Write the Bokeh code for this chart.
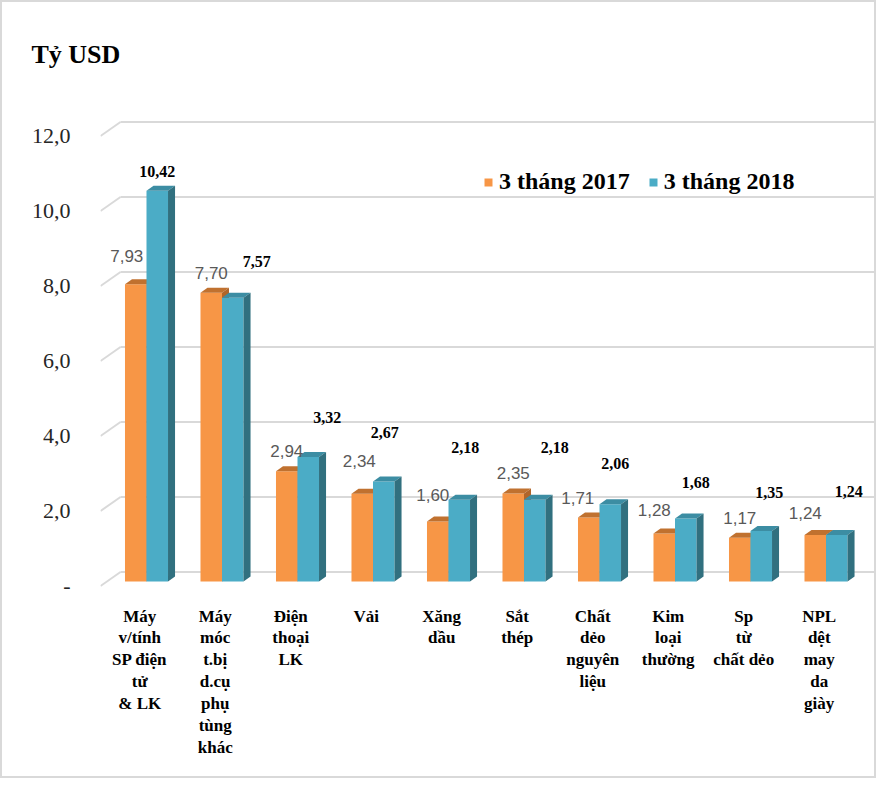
from bokeh.plotting import figure
from bokeh.models import Range1d, FixedTicker, ColumnDataSource, Legend, LegendItem
from bokeh.embed import file_html
from bokeh.resources import INLINE
from bokeh.core.properties import value

# ---------------- data ----------------
categories = [
    "Máy\nv/tính\nSP điện\ntử\n& LK",
    "Máy\nmóc\nt.bị\nd.cụ\nphụ\ntùng\nkhác",
    "Điện\nthoại\nLK",
    "Vải",
    "Xăng\ndầu",
    "Sắt\nthép",
    "Chất\ndẻo\nnguyên\nliệu",
    "Kim\nloại\nthường",
    "Sp\ntừ\nchất dẻo",
    "NPL\ndệt\nmay\nda\ngiày",
]
values_2017 = [7.93, 7.70, 2.94, 2.34, 1.60, 2.35, 1.71, 1.28, 1.17, 1.24]
values_2018 = [10.42, 7.57, 3.32, 2.67, 2.18, 2.18, 2.06, 1.68, 1.35, 1.24]
series_names = ["3 tháng 2017", "3 tháng 2018"]
y_ticks = [0, 2, 4, 6, 8, 10, 12]
y_tick_labels = ["-", "2,0", "4,0", "6,0", "8,0", "10,0", "12,0"]
axis_title = "Tỷ USD"

# ---------------- style ----------------
ORANGE, ORANGE_TOP, ORANGE_SIDE = "#F79646", "#C0712F", "#B0652A"
BLUE, BLUE_TOP, BLUE_SIDE = "#4BACC6", "#3C8DA3", "#31707F"
GRID = "#d9d9d9"
BAR_W = 0.285       # bar width in category units
DEPTH_X = 0.093     # 3D depth (x, category units)
DEPTH_Y = 0.133     # 3D depth (y, value units)
WALL_X = 0.265      # back wall depth (x)
WALL_Y = 0.253      # back wall depth (y)
FRONT_DROP = 0.12   # front end of the grid diagonal below its value
LABEL_SHIFT = -0.09 # category label shift
X0, X1 = -0.6093, 9.682
Y0, Y1 = -0.24, 12.827

# pixel nudges of the data labels (style)
nudge17_x = [-9, 0, 0, -3, -5, 0, -11, -10, 0, -10]
nudge17_y = [28, 20, 20, 33, 27, 20, 19, 24, 20, 22]
nudge18_x = [0, 24, 19, 1, 6, 20, 5, 10, 8, 12]
nudge18_y = [19, 36, 40, 49, 52, 52, 41, 36, 38, 44]

n = len(categories)
idx = list(range(n))

p = figure(width=876, height=778, x_range=Range1d(X0, X1), y_range=Range1d(Y0, Y1),
           output_backend="svg", toolbar_location=None,
           min_border_left=98, min_border_right=1, min_border_top=98, min_border_bottom=190)
p.styles = {"border": "2px solid #d9d9d9"}
p.outline_line_color = None
p.xgrid.visible = False
p.ygrid.visible = False

# title
p.title.text = axis_title
p.title.text_font = "Liberation Serif"
p.title.text_font_style = "bold"
p.title.text_font_size = "26px"
p.title.text_color = "#000000"
p.title.align = "left"
p.title.offset = -69
p.title.standoff = 64

# 3D grid (diagonal on the side wall + line on the back wall)
p.segment(x0=[X0] * len(y_ticks), y0=[v - FRONT_DROP for v in y_ticks],
          x1=[X0 + WALL_X] * len(y_ticks), y1=[v + WALL_Y for v in y_ticks],
          line_color=GRID, line_width=2)
p.segment(x0=[X0 + WALL_X] * len(y_ticks), y0=[v + WALL_Y for v in y_ticks],
          x1=[X1] * len(y_ticks), y1=[v + WALL_Y for v in y_ticks],
          line_color=GRID, line_width=2)


def bar3d(lefts, vals, front, top, side):
    rights = [l + BAR_W for l in lefts]
    r = p.quad(left=lefts, right=rights, bottom=[0] * n, top=vals,
               fill_color=front, line_color=None)
    top_xs = [[l, rr, rr + DEPTH_X, l + DEPTH_X] for l, rr in zip(lefts, rights)]
    top_ys = [[v, v, v + DEPTH_Y, v + DEPTH_Y] for v in vals]
    p.patches(xs=top_xs, ys=top_ys, fill_color=top, line_color=None)
    side_xs = [[rr, rr + DEPTH_X, rr + DEPTH_X, rr] for rr in rights]
    side_ys = [[0, DEPTH_Y, v + DEPTH_Y, v] for v in vals]
    p.patches(xs=side_xs, ys=side_ys, fill_color=side, line_color=None)
    return r


r17 = bar3d([i - BAR_W for i in idx], values_2017, ORANGE, ORANGE_TOP, ORANGE_SIDE)
r18 = bar3d([i for i in idx], values_2018, BLUE, BLUE_TOP, BLUE_SIDE)


def fmt(v):
    return f"{v:.2f}".replace(".", ",")


src17 = ColumnDataSource(dict(x=[i - BAR_W / 2 for i in idx], y=values_2017,
                              t=[fmt(v) for v in values_2017],
                              dx=nudge17_x, dy=[-d for d in nudge17_y]))
p.text(x="x", y="y", text="t", x_offset="dx", y_offset="dy", source=src17,
       text_font=value("Liberation Sans"), text_font_size="17px", text_color="#595959",
       text_align="center", text_baseline="middle")
src18 = ColumnDataSource(dict(x=[i + BAR_W / 2 for i in idx], y=values_2018,
                              t=[fmt(v) for v in values_2018],
                              dx=nudge18_x, dy=[-d for d in nudge18_y]))
p.text(x="x", y="y", text="t", x_offset="dx", y_offset="dy", source=src18,
       text_font=value("Liberation Serif"), text_font_style="bold", text_font_size="16px",
       text_color="#000000", text_align="center", text_baseline="middle")

# axes
yax = p.yaxis[0]
yt = [v - FRONT_DROP for v in y_ticks]
yax.ticker = FixedTicker(ticks=yt)
yax.major_label_overrides = {t: lab for t, lab in zip(yt, y_tick_labels)}
yax.axis_line_color = None
yax.major_tick_line_color = None
yax.minor_tick_line_color = None
yax.major_label_standoff = 24
yax.major_label_text_font = "Liberation Serif"
yax.major_label_text_font_size = "22px"
yax.major_label_text_color = "#262626"

xax = p.xaxis[0]
xt = [i + LABEL_SHIFT for i in idx]
xax.ticker = FixedTicker(ticks=xt)
xax.major_label_overrides = {t: lab for t, lab in zip(xt, categories)}
xax.axis_line_color = None
xax.major_tick_line_color = None
xax.minor_tick_line_color = None
xax.major_label_standoff = 10
xax.major_label_text_font = "Liberation Serif"
xax.major_label_text_font_style = "bold"
xax.major_label_text_font_size = "17px"
xax.major_label_text_line_height = 1.15
xax.major_label_text_color = "#000000"

legend = Legend(items=[LegendItem(label=series_names[0], renderers=[r17]),
                       LegendItem(label=series_names[1], renderers=[r18])],
                orientation="horizontal", location=(383, 395),
                glyph_width=10, glyph_height=10, label_standoff=6, spacing=18,
                padding=0, margin=0, border_line_color=None, background_fill_alpha=0,
                label_text_font="Liberation Serif", label_text_font_style="bold",
                label_text_font_size="24px", label_text_color="#000000")
p.add_layout(legend)

open("out.html", "w").write(file_html(p, INLINE))
